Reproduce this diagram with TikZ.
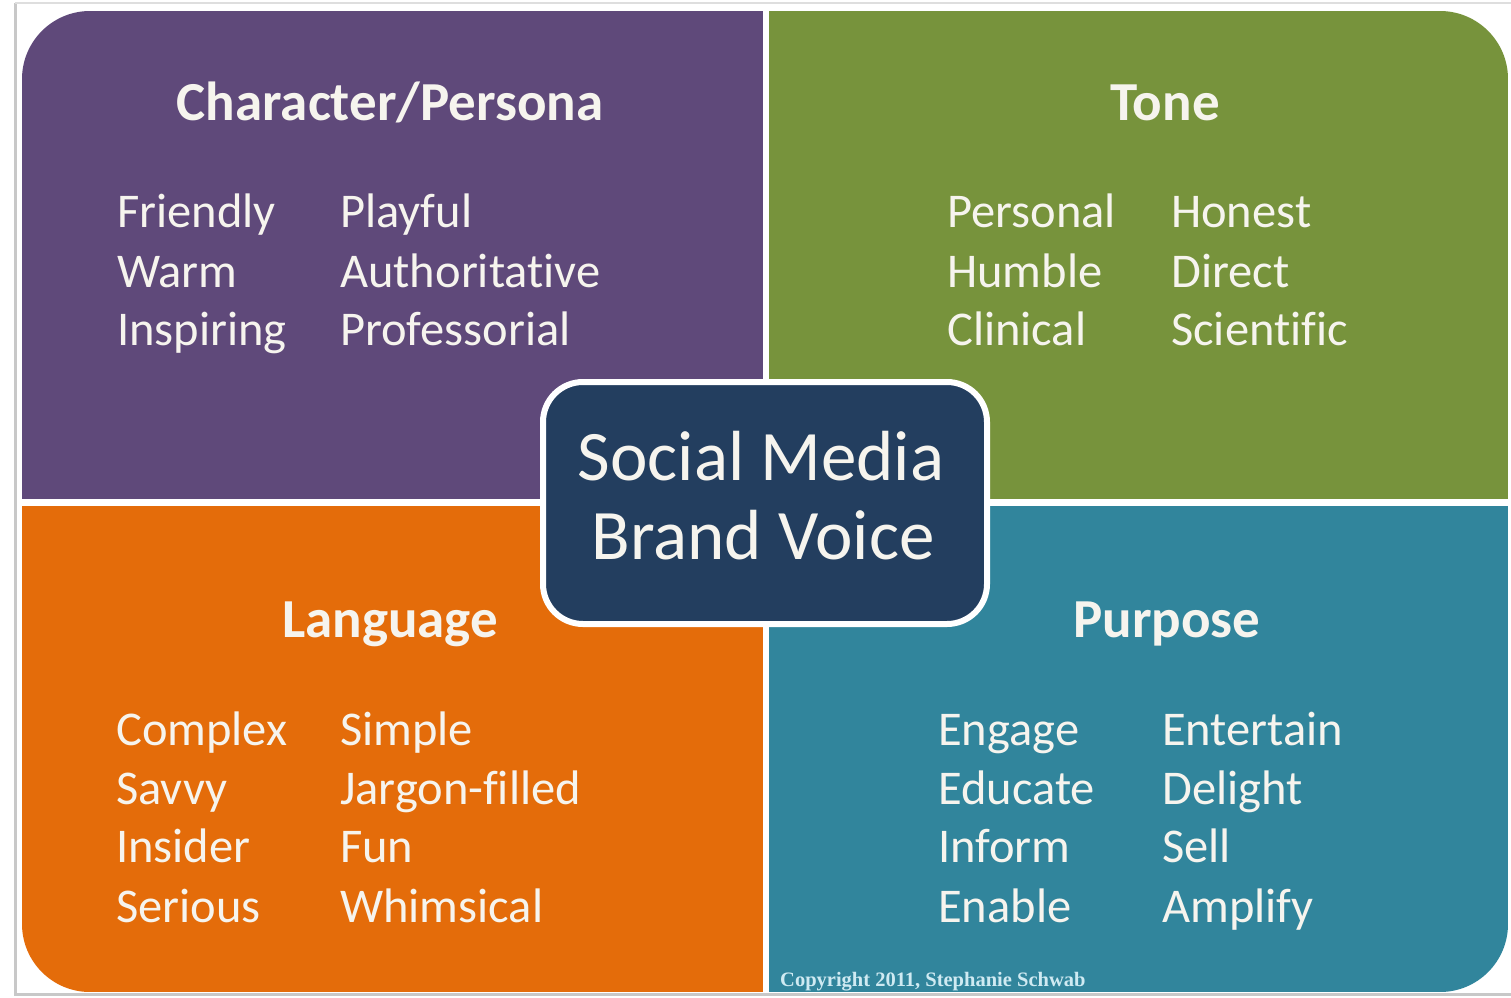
\documentclass[tikz,border=0pt]{standalone}
\usepackage{fontspec}
\setmainfont[Ligatures={NoCommon}]{Carlito}
\newfontfamily\copyfont{Liberation Serif}
\definecolor{qpurple}{HTML}{5F497A}
\definecolor{qgreen}{HTML}{77933C}
\definecolor{qorange}{HTML}{E46C0A}
\definecolor{qteal}{HTML}{31859C}
\definecolor{qnavy}{HTML}{233E5F}
\definecolor{txt}{HTML}{F6F4EE}
\definecolor{copytxt}{HTML}{CFEAF2}
\definecolor{frame}{HTML}{C8C8C8}
\tikzset{
  heading/.style={anchor=base, text=txt, font=\fontsize{55}{55}\selectfont\bfseries, inner sep=0pt},
  item/.style={anchor=base west, text=txt, font=\fontsize{48.5}{48.5}\selectfont, inner sep=0pt},
  title/.style={anchor=base, text=txt, font=\fontsize{71}{71}\selectfont, inner sep=0pt},
}
\begin{document}
\begin{tikzpicture}[x=1pt, y=-1pt]
\useasboundingbox (0,0) rectangle (1511,997);
\fill[white] (0,0) rectangle (1511,997);
% thin frame around the card
\draw[frame, line width=3pt] (15,3) -- (15,994) -- (1511,994);
\draw[frame!60, line width=2pt] (15,3) -- (1511,3);

% four quadrants inside a rounded outline
\begin{scope}
  \clip[rounded corners=68pt] (22,11) rectangle (1508,992);
  \fill[qpurple] (22,11) rectangle (763,499);
  \fill[qgreen]  (769,11) rectangle (1508,499);
  \fill[qorange] (22,506) rectangle (763,992);
  \fill[qteal]   (769,506) rectangle (1508,992);
\end{scope}

% centre box
\node[draw=white, line width=6pt, fill=qnavy, rounded corners=40pt,
      minimum width=444pt, minimum height=242pt, inner sep=0pt] (core) at (765,503) {};
\node[title] (t1) at (761,480) {Social Media};
\node[title] (t2) at (763,559) {Brand Voice};

% Character / Persona
\node[heading] (h1) at (390,120) {Character/Persona};
\node[item] (a1) at (117,227) {Friendly};
\node[item] (a2) at (117,287) {Warm};
\node[item] (a3) at (117,345) {Inspiring};
\node[item] (a4) at (340,227) {Playful};
\node[item] (a5) at (340,287) {Authoritative};
\node[item] (a6) at (340,345) {Professorial};

% Tone
\node[heading] (h2) at (1165,120) {Tone};
\node[item] (b1) at (947,227) {Personal};
\node[item] (b2) at (947,287) {Humble};
\node[item] (b3) at (947,345) {Clinical};
\node[item] (b4) at (1171,227) {Honest};
\node[item] (b5) at (1171,287) {Direct};
\node[item] (b6) at (1171,345) {Scientific};

% Language
\node[heading] (h3) at (390,637) {Language};
\node[item] (c1) at (116,745) {Complex};
\node[item] (c2) at (116,804) {Savvy};
\node[item] (c3) at (116,862) {Insider};
\node[item] (c4) at (116,922) {Serious};
\node[item] (c5) at (340,745) {Simple};
\node[item] (c6) at (340,804) {Jargon-filled};
\node[item] (c7) at (340,862) {Fun};
\node[item] (c8) at (340,922) {Whimsical};

% Purpose
\node[heading] (h4) at (1167,637) {Purpose};
\node[item] (d1) at (938,745) {Engage};
\node[item] (d2) at (938,804) {Educate};
\node[item] (d3) at (938,862) {Inform};
\node[item] (d4) at (938,922) {Enable};
\node[item] (d5) at (1162,745) {Entertain};
\node[item] (d6) at (1162,804) {Delight};
\node[item] (d7) at (1162,862) {Sell};
\node[item] (d8) at (1162,922) {Amplify};

% copyright line
\node[anchor=base west, inner sep=0pt, text=copytxt, font=\copyfont\fontsize{20.5}{20.5}\selectfont\bfseries]
  (copy) at (780,986) {Copyright 2011, Stephanie Schwab};
\end{tikzpicture}
\end{document}
